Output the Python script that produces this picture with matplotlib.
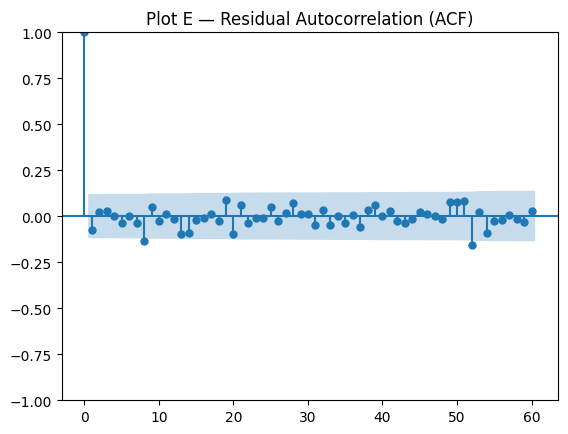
import numpy as np
import matplotlib
matplotlib.use("Agg")
import matplotlib.pyplot as plt

# valores de la ACF (lag 0..60)
lags = np.arange(0, 61)
acf = [1.00,
       -0.076, 0.02, 0.03, 0.00, -0.035, 0.00, -0.04, -0.135, 0.05, -0.025,
       0.01, -0.015, -0.10, -0.09, -0.02, -0.01, 0.01, -0.025, 0.085, -0.095,
       0.058, -0.04, -0.008, -0.008, 0.048, -0.025, 0.015, 0.07, 0.01, 0.01,
       -0.05, 0.035, -0.05, 0.00, -0.035, 0.005, -0.06, 0.035, 0.06, 0.00,
       0.025, -0.025, -0.04, -0.018, 0.02, 0.01, 0.00, -0.015, 0.075, 0.075,
       0.08, -0.155, 0.02, -0.09, -0.025, -0.02, 0.005, -0.015, -0.03, 0.025]
n_obs = 267  # tamaño de muestra estimado a partir del ancho de la banda

acf = np.array(acf)

# banda de confianza tipo Bartlett
varacf = np.ones(len(acf)) / n_obs
varacf[0] = 0
varacf[2:] *= 1 + 2 * np.cumsum(acf[1:-1] ** 2)
banda = 1.96 * np.sqrt(varacf)

fig = plt.figure(figsize=(5.68, 4.35), dpi=100)
ax = fig.add_axes([0.109, 0.078, 0.873, 0.846])

ax.vlines(lags, [0], acf)
ax.axhline()
ax.plot(lags, acf, marker="o", markersize=5, linestyle="None", color="C0")

x_banda = lags[1:].astype(float)
x_banda[0] -= 0.5
x_banda[-1] += 0.5
ax.fill_between(x_banda, -banda[1:], banda[1:], alpha=0.25)

ax.set_ylim(-1, 1)
ax.set_title("Plot E — Residual Autocorrelation (ACF)")

fig.savefig("out.png")
